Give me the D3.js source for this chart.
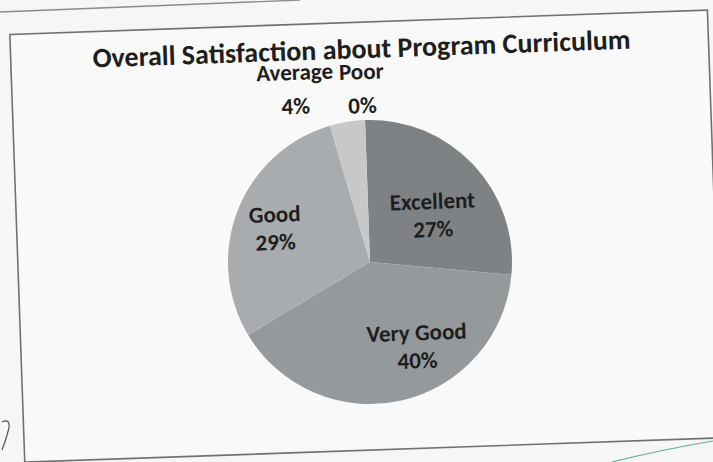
<!DOCTYPE html>
<html>
<head>
<meta charset="utf-8">
<script src="https://cdn.jsdelivr.net/npm/d3@7"></script>
<style>
  html, body { margin: 0; padding: 0; background: #f5f6f5; }
  svg { display: block; }
  text { font-family: Carlito, Calibri, Lato, "Open Sans", sans-serif; font-weight: bold; fill: #1e1e1e; }
</style>
</head>
<body>
<svg id="chart" width="713" height="462"></svg>
<script>
// ---- data ----
const title = "Overall Satisfaction about Program Curriculum";
const categories = ["Excellent", "Very Good", "Good", "Average", "Poor"];
const values = [27, 40, 29, 4, 0];
const percentLabels = ["27%", "40%", "29%", "4%", "0%"];
const sliceColors = ["#7f8285", "#96999c", "#a9acae", "#c6c8c9", "#d6d8d8"];

// ---- layout ----
const W = 713, H = 462;
const cx = 370, cy = 262, R = 142;
const tilt = -2; // scanned page is slightly rotated
const insideSet = new Set(["Excellent", "Very Good", "Good"]);
const labelNudge = {
  "Excellent": [-8, 19],
  "Very Good": [26, -9],
  "Good": [-5, 1],
  "Average": [-47, -3],
  "Poor": [-2, 0]
};

const svg = d3.select("#chart");
svg.append("rect").attr("width", W).attr("height", H).attr("fill", "#f5f6f5");

// page edge at the top
svg.append("line").attr("x1", 0).attr("y1", 12).attr("x2", 300).attr("y2", 0)
  .attr("stroke", "#8a8c8c").attr("stroke-width", 1.3);

const page = svg.append("g").attr("transform", `rotate(${tilt}, ${cx}, ${cy})`);

// chart frame
page.append("rect")
  .attr("x", 18).attr("y", 22).attr("width", 698).attr("height", 428)
  .attr("fill", "#f8f9f8").attr("stroke", "#707272").attr("stroke-width", 1.6);

// title
page.append("text")
  .attr("x", cx - 1).attr("y", 58)
  .attr("text-anchor", "middle")
  .style("font-size", "28px")
  .text(title);

const data = categories.map((c, i) => ({ cat: c, value: values[i], pct: percentLabels[i], color: sliceColors[i] }));
const pie = d3.pie().sort(null).value(d => d.value);
const arcs = pie(data);
const arc = d3.arc().innerRadius(0).outerRadius(R);
const inArc = d3.arc().innerRadius(R * 0.68).outerRadius(R * 0.68);
const outArc = d3.arc().innerRadius(R + 32).outerRadius(R + 32);

const g = page.append("g").attr("transform", `translate(${cx},${cy})`);
g.selectAll("path.slice").data(arcs).join("path")
  .attr("class", "slice")
  .attr("d", arc)
  .attr("fill", d => d.data.color);

const lab = g.selectAll("g.lab").data(arcs).join("g")
  .attr("class", "lab")
  .attr("transform", d => {
    const c = insideSet.has(d.data.cat) ? inArc.centroid(d) : outArc.centroid(d);
    const n = labelNudge[d.data.cat];
    return `translate(${c[0] + n[0]},${c[1] + n[1]})`;
  });

lab.append("text")
  .attr("text-anchor", "middle")
  .attr("y", d => insideSet.has(d.data.cat) ? -14 : -17)
  .attr("dy", "0.35em")
  .style("font-size", "23px")
  .text(d => d.data.cat);
lab.append("text")
  .attr("text-anchor", "middle")
  .attr("y", d => insideSet.has(d.data.cat) ? 14 : 17)
  .attr("dy", "0.35em")
  .style("font-size", "23px")
  .text(d => d.data.pct);

// ink marks on the scan
svg.append("path").attr("d", "M612,462 Q660,450 713,441")
  .attr("fill", "none").attr("stroke", "#5fae8f").attr("stroke-width", 1.2);
svg.append("path").attr("d", "M2,422 Q10,418 9,428 Q6,440 2,450")
  .attr("fill", "none").attr("stroke", "#555").attr("stroke-width", 1.2);
</script>
</body>
</html>
